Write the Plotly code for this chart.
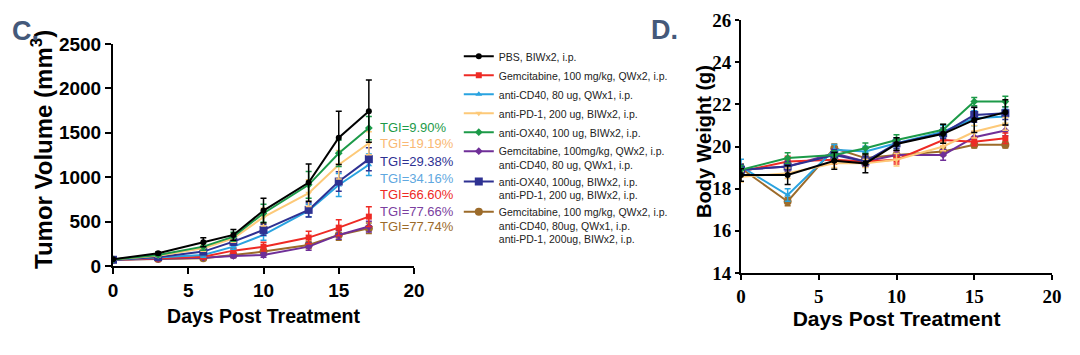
import plotly.graph_objects as go

days = [0, 3, 6, 8, 10, 13, 15, 17]

names = [
    "PBS, BIWx2, i.p.",
    "Gemcitabine, 100 mg/kg, QWx2, i.p.",
    "anti-CD40, 80 ug, QWx1, i.p.",
    "anti-PD-1, 200 ug, BIWx2, i.p.",
    "anti-OX40, 100 ug, BIWx2, i.p.",
    "Gemcitabine, 100mg/kg, QWx2, i.p.<br>anti-CD40, 80 ug, QWx1, i.p.",
    "anti-OX40, 100ug, BIWx2, i.p.<br>anti-PD-1, 200 ug, BIWx2, i.p.",
    "Gemcitabine, 100 mg/kg, QWx2, i.p.<br>anti-CD40, 80ug, QWx1, i.p.<br>anti-PD-1, 200ug, BIWx2, i.p.",
]
colors = ["#000000", "#ee2a24", "#29a3e0", "#fdc978", "#1c9a48", "#6f2f98", "#2e3192", "#9c6b2a"]
symbols = ["circle", "square", "triangle-up", "triangle-down", "diamond", "diamond", "square", "circle"]
msizes = [6, 6, 6, 6, 6, 6, 8, 8]

# Tumor volume (mm3), mean and SEM
tv_mean = [
    [75, 143, 267, 350, 624, 940, 1444, 1744],
    [70, 85, 105, 173, 218, 320, 432, 556],
    [70, 95, 124, 218, 350, 624, 913, 1140],
    [72, 115, 200, 312, 550, 820, 1140, 1383],
    [72, 125, 218, 330, 594, 914, 1270, 1553],
    [70, 80, 94, 113, 124, 218, 350, 444],
    [70, 100, 162, 274, 406, 632, 951, 1203],
    [70, 80, 86, 124, 162, 237, 350, 425],
]
tv_err = [
    [10, 15, 50, 60, 140, 210, 300, 350],
    [8, 10, 20, 30, 50, 70, 90, 110],
    [8, 10, 25, 30, 60, 70, 130, 120],
    [8, 12, 35, 45, 100, 150, 160, 130],
    [8, 12, 40, 50, 100, 150, 150, 130],
    [5, 8, 15, 20, 25, 40, 50, 60],
    [8, 10, 30, 40, 60, 80, 110, 130],
    [5, 8, 15, 20, 25, 40, 60, 60],
]

# Body weight (g), mean and SEM
bw_mean = [
    [18.65, 18.65, 19.32, 19.20, 20.12, 20.60, 21.26, 21.62],
    [18.81, 19.29, 19.37, 19.29, 19.37, 20.31, 20.23, 20.39],
    [19.05, 17.70, 19.84, 19.76, 20.15, 20.70, 21.34, 21.42],
    [18.57, 18.73, 19.20, 19.20, 19.37, 20.00, 20.70, 21.07],
    [18.90, 19.45, 19.60, 19.92, 20.31, 20.79, 22.13, 22.13],
    [18.90, 19.05, 19.68, 19.29, 19.60, 19.60, 20.44, 20.76],
    [18.90, 19.05, 19.60, 19.29, 20.15, 20.63, 21.50, 21.58],
    [18.97, 17.39, 19.92, 19.45, 19.60, 19.76, 20.08, 20.08],
]
bw_err = [
    [0.30, 0.45, 0.40, 0.45, 0.30, 0.45, 0.60, 0.60],
    [0.20, 0.25, 0.20, 0.20, 0.20, 0.30, 0.20, 0.25],
    [0.35, 0.30, 0.25, 0.25, 0.25, 0.30, 0.35, 0.35],
    [0.25, 0.25, 0.20, 0.20, 0.30, 0.20, 0.30, 0.30],
    [0.20, 0.25, 0.20, 0.25, 0.25, 0.25, 0.20, 0.25],
    [0.20, 0.20, 0.20, 0.20, 0.20, 0.25, 0.25, 0.25],
    [0.25, 0.25, 0.25, 0.25, 0.25, 0.25, 0.35, 0.30],
    [0.20, 0.20, 0.20, 0.20, 0.20, 0.20, 0.15, 0.15],
]

tgi_labels = ["TGI=9.90%", "TGI=19.19%", "TGI=29.38%", "TGI=34.16%", "TGI=66.60%", "TGI=77.66%", "TGI=77.74%"]
tgi_colors = ["#1c9a48", "#f9b873", "#2e3192", "#5fa8e0", "#ee2a24", "#7b3fa0", "#9c6b2a"]

draw_order = [7, 5, 1, 2, 6, 3, 4, 0]

W, H, OFF = 1080, 355, 8


def px(x):
    return (x - OFF) / W


def py(y):
    return 1 - (y - OFF) / H


fig = go.Figure()
for i in draw_order:
    fig.add_trace(go.Scatter(
        x=days, y=tv_mean[i], name=names[i], mode="lines+markers",
        line=dict(color=colors[i], width=2),
        marker=dict(symbol=symbols[i], size=msizes[i], color=colors[i]),
        error_y=dict(type="data", array=tv_err[i], symmetric=True, color=colors[i], thickness=1.5, width=3),
        xaxis="x", yaxis="y", legendrank=i + 1,
    ))
for i in draw_order:
    fig.add_trace(go.Scatter(
        x=days, y=bw_mean[i], name=names[i], mode="lines+markers", showlegend=False,
        line=dict(color=colors[i], width=2),
        marker=dict(symbol=symbols[i], size=msizes[i], color=colors[i]),
        error_y=dict(type="data", array=bw_err[i], symmetric=True, color=colors[i], thickness=1.5, width=3),
        xaxis="x2", yaxis="y2",
    ))


def tfont(sz, fam="Liberation Sans"):
    return dict(family=fam, size=sz, color="black", weight="bold")


def axis_common(fam, tl):
    return dict(showline=True, linecolor="black", linewidth=2, ticks="outside",
                ticklen=tl, tickwidth=2, tickcolor="black", showgrid=False, zeroline=False,
                tickfont=tfont(19, fam), automargin=False)


fig.update_layout(
    template="none",
    width=W, height=H, margin=dict(l=0, r=0, t=0, b=0),
    paper_bgcolor="white", plot_bgcolor="white",
    font=dict(family="Liberation Sans", color="black"),
    xaxis=dict(domain=[px(113), px(414)], range=[0, 20], tickvals=[0, 5, 10, 15, 20],
               title=dict(text="Days Post Treatment", font=tfont(19.5), standoff=10), anchor="y",
               **axis_common("Liberation Sans", 6)),
    yaxis=dict(domain=[py(266), py(44)], range=[0, 2500], tickvals=[0, 500, 1000, 1500, 2000, 2500],
               anchor="x", **axis_common("Liberation Sans", 6)),
    xaxis2=dict(domain=[px(741), px(1052)], range=[0, 20], tickvals=[0, 5, 10, 15, 20],
                title=dict(text="Days Post Treatment", font=tfont(21), standoff=6), anchor="y2",
                **axis_common("Liberation Sans Narrow", 5)),
    yaxis2=dict(domain=[py(273), py(20)], range=[14, 26], tickvals=[14, 16, 18, 20, 22, 24, 26],
                anchor="x2", **axis_common("Liberation Sans Narrow", 4)),
    legend=dict(x=0.4174, y=0.9018, xanchor="left", yanchor="top", valign="top",
                font=dict(family="Liberation Sans", size=10.5, color="#222"),
                bgcolor="rgba(0,0,0,0)", tracegroupgap=0, itemwidth=30),
)

# y-axis titles
fig.add_annotation(text="Tumor Volume (mm<sup>3</sup>)", x=px(42), y=py(150), xref="paper", yref="paper",
                   xanchor="center", yanchor="middle", textangle=-90, showarrow=False,
                   font=tfont(24))
fig.add_annotation(text="Body Weight (g)", x=px(704), y=py(142), xref="paper", yref="paper",
                   xanchor="center", yanchor="middle", textangle=-90, showarrow=False,
                   font=tfont(20))

tgi_y = [127, 144, 161, 178, 194, 211, 227]
for lab, col, yp in zip(tgi_labels, tgi_colors, tgi_y):
    fig.add_annotation(text=lab, x=px(378), y=py(yp), xref="paper", yref="paper",
                       xanchor="left", yanchor="middle", showarrow=False,
                       font=dict(family="Liberation Sans", size=13, color=col))

fig.add_annotation(text="C.", x=px(10), y=py(31), xref="paper", yref="paper",
                   xanchor="left", yanchor="middle", showarrow=False,
                   font=dict(family="Liberation Sans", size=27, color="#44597a", weight="bold"))
fig.add_annotation(text="D.", x=px(649), y=py(30), xref="paper", yref="paper",
                   xanchor="left", yanchor="middle", showarrow=False,
                   font=dict(family="Liberation Sans", size=27, color="#44597a", weight="bold"))

fig.write_html("out.html")
